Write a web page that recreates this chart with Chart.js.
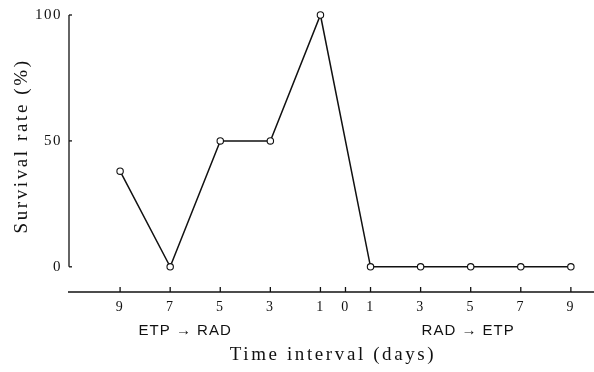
<!DOCTYPE html>
<html>
<head>
<meta charset="utf-8">
<script src="https://cdn.jsdelivr.net/npm/chart.js@4"></script>
<style>
  html, body { margin: 0; padding: 0; background: #fff; }
  #wrap { width: 594px; height: 372px; }
</style>
</head>
<body>
<div id="wrap"><canvas id="plot"></canvas></div>
<script>
// negative days = ETP given first, positive = RAD given first
const intervalDays = [-9, -7, -5, -3, -1, 1, 3, 5, 7, 9];
const survivalRate = [38, 0, 50, 50, 100, 0, 0, 0, 0, 0];
const xTickValues = [-9, -7, -5, -3, -1, 0, 1, 3, 5, 7, 9];
const yTickValues = [0, 50, 100];
const orderLabels = ['ETP \u2192 RAD', 'RAD \u2192 ETP'];
const orderCenters = [-6.4, 4.9];
const xTitle = 'Time interval (days)';
const yTitle = 'Survival rate (%)';

const serif = '"Liberation Serif", "DejaVu Serif", serif';

// axis lines, inward ticks, titles and the ETP/RAD captions
const axesPlugin = {
    id: 'axes',
    beforeDraw: function(chart) {
        // the scanned figure has loosely spaced lettering
        chart.ctx.letterSpacing = '1.5px';
    },
    afterDraw: function(chart) {
        const ctx = chart.ctx;
        const x = chart.scales.x;
        const y = chart.scales.y;
        const area = chart.chartArea;
        ctx.save();
        ctx.strokeStyle = '#111';
        ctx.lineWidth = 1.3;
        // y axis only spans 0..100
        const yx = area.left + 1;
        ctx.beginPath();
        ctx.moveTo(yx, y.getPixelForValue(yTickValues[0]));
        ctx.lineTo(yx, y.getPixelForValue(yTickValues[yTickValues.length - 1]));
        ctx.stroke();
        yTickValues.forEach(function(v) {
            const py = y.getPixelForValue(v);
            ctx.beginPath();
            ctx.moveTo(yx, py);
            ctx.lineTo(yx + 3, py);
            ctx.stroke();
        });
        // x axis runs to the right edge of the figure
        const xy = area.bottom;
        ctx.beginPath();
        ctx.moveTo(area.left, xy);
        ctx.lineTo(chart.width, xy);
        ctx.stroke();
        xTickValues.forEach(function(v) {
            const px = x.getPixelForValue(v);
            ctx.beginPath();
            ctx.moveTo(px, xy);
            ctx.lineTo(px, xy - 5);
            ctx.stroke();
        });
        ctx.fillStyle = '#111';
        ctx.textAlign = 'center';
        ctx.textBaseline = 'middle';
        ctx.letterSpacing = '1px';
        ctx.font = '15px "Liberation Sans", Arial, sans-serif';
        orderLabels.forEach(function(t, i) {
            ctx.fillText(t, x.getPixelForValue(orderCenters[i]), xy + 39);
        });
        ctx.letterSpacing = '2.6px';
        ctx.font = '19px ' + serif;
        ctx.fillText(xTitle, (area.left + chart.width) / 2 + 2, xy + 63);
        ctx.translate(22, y.getPixelForValue(48));
        ctx.rotate(-Math.PI / 2);
        ctx.fillText(yTitle, 0, 0);
        ctx.restore();
    }
};

new Chart(document.getElementById('plot').getContext('2d'), {
    type: 'scatter',
    data: {
        datasets: [{
            label: 'Survival rate',
            data: intervalDays.map((d, i) => ({ x: d, y: survivalRate[i] })),
            showLine: true,
            borderColor: '#111',
            borderWidth: 1.5,
            pointRadius: 3.2,
            pointBorderWidth: 1.1,
            pointBackgroundColor: '#fff',
            pointBorderColor: '#111',
            clip: false
        }]
    },
    options: {
        responsive: true,
        maintainAspectRatio: false,
        animation: false,
        layout: { padding: { top: 15, right: 0, left: 0, bottom: 0 } },
        plugins: {
            legend: { display: false },
            tooltip: { enabled: false }
        },
        scales: {
            x: {
                type: 'linear',
                min: -11.08,
                max: 9.72,
                grid: { display: false, drawTicks: false },
                border: { display: false },
                afterBuildTicks: function(scale) {
                    scale.ticks = xTickValues.map(v => ({ value: v }));
                },
                afterFit: function(scale) {
                    scale.height = 80;
                },
                ticks: {
                    autoSkip: false,
                    maxRotation: 0,
                    padding: 7,
                    color: '#111',
                    font: { family: serif, size: 14 },
                    callback: v => String(Math.abs(v))
                }
            },
            y: {
                min: -10,
                max: 100,
                grid: { display: false, drawTicks: false },
                border: { display: false },
                afterBuildTicks: function(scale) {
                    scale.ticks = yTickValues.map(v => ({ value: v }));
                },
                afterFit: function(scale) {
                    scale.width = 68;
                },
                ticks: {
                    padding: 6,
                    color: '#111',
                    font: { family: serif, size: 15 }
                }
            }
        }
    },
    plugins: [axesPlugin]
});
</script>
</body>
</html>
